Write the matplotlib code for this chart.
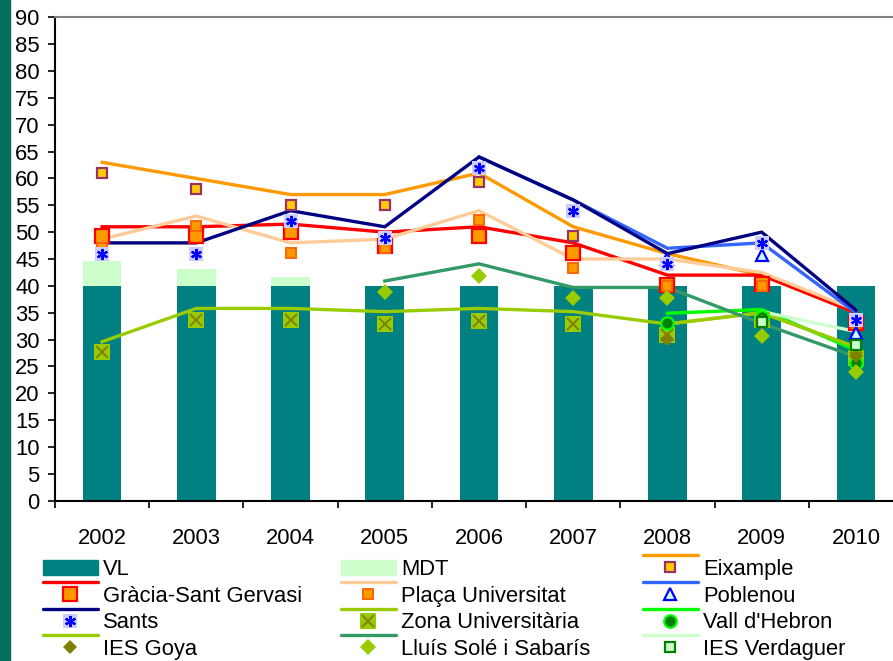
import numpy as np
import matplotlib
matplotlib.use("Agg")
import matplotlib.pyplot as plt
from matplotlib.lines import Line2D
from matplotlib.patches import Rectangle
from matplotlib.legend_handler import HandlerBase

nan = np.nan

years = ["2002", "2003", "2004", "2005", "2006", "2007", "2008", "2009", "2010"]
vl = [40, 40, 40, 40, 40, 40, 40, 40, 40]
mdt = [4.7, 3.2, 1.7, 0, 0, 0, 0, 0, 0]

eixample_line = [63, 60, 57, 57, 61, 51, 46, 42, 35]
eixample_pts = [61, 58, 55, 55, 59.3, 49.2, 44, nan, 33.5]
gracia_line = [51, 51, 51.5, 50, 51, 48, 42, 42, 35]
gracia_pts = [49.2, 49.2, 50, 47.5, 49.2, 46.2, 40.2, 40.3, 33]
placa_line = [48.7, 53, 48, 48.7, 54, 45, 45, 42.5, 35.5]
placa_pts = [47, 51.2, 46.2, 47, 52.3, 43.3, 40, 40, 33]
poblenou_line = [nan, nan, nan, nan, 64, 56, 47, 48, 35]
poblenou_pts = [nan, nan, nan, nan, nan, nan, 45, 45.7, 31.2]
sants_line = [48, 48, 54, 51, 64, 56, 46, 50, 35.5]
sants_pts = [46, 46, 52, 49, 62, 54, 44, 48, 33.6]
zona_line = [29.6, 35.8, 35.8, 35.2, 35.8, 35.2, 32.9, 35, 28.6]
zona_pts = [27.6, 33.6, 33.6, 32.9, 33.5, 32.9, 30.9, 33.6, 26.6]
vall_line = [nan, nan, nan, nan, nan, nan, 34.9, 35.6, 28]
vall_pts = [nan, nan, nan, nan, nan, nan, 33, 34.2, 25.6]
goya_line = [nan, nan, nan, nan, nan, nan, 32.9, 35, 28.6]
goya_pts = [nan, nan, nan, nan, nan, nan, 30.1, 33.5, 27]
lluis_line = [nan, nan, nan, 40.9, 44.1, 39.7, 39.7, 33, 26.8]
lluis_pts = [nan, nan, nan, 38.9, 41.8, 37.8, 37.8, 30.7, 24]
verdaguer_line = [nan, nan, nan, nan, nan, nan, nan, 35.2, 31.5]
verdaguer_pts = [nan, nan, nan, nan, nan, nan, nan, 33.2, 29]

plt.rcParams["font.family"] = ["Liberation Sans", "DejaVu Sans"]
FS = 15.8

W, H = 893, 661
fig = plt.figure(figsize=(W / 100, H / 100), dpi=100)
fig.patches.append(Rectangle((0, 0), 10 / W, 1, transform=fig.transFigure,
                             color="#00705c", zorder=0))

ax_l, ax_r, ax_t, ax_b = 55, 903, 17.3, 500.7
ax = fig.add_axes([ax_l / W, 1 - ax_b / H, (ax_r - ax_l) / W, (ax_b - ax_t) / H])

x = np.arange(len(years))
ax.bar(x, vl, width=0.41, color="#008080", zorder=2)
ax.bar(x, mdt, width=0.41, bottom=vl, color="#ccffcc", zorder=2)

LW = 2.4


def series(line_y, line_color, pts_y, markers, lw=LW):
    ln = None
    if line_y is not None:
        ln, = ax.plot(x, line_y, color=line_color, lw=lw, zorder=3,
                      solid_joinstyle="miter")
    mks = []
    for m in markers:
        mk, = ax.plot(x, pts_y, linestyle="none", zorder=4, **m)
        mks.append(mk)
    return (ln, tuple(mks))


h_eix = series(eixample_line, "#ff9900", eixample_pts,
               [dict(marker="s", ms=7, mfc="#ffcc00", mec="#993366", mew=1.6)])
h_gra = series(gracia_line, "#ff0000", gracia_pts,
               [dict(marker="s", ms=10.5, mfc="#ff9900", mec="#ff0000", mew=1.6)])
h_pla = series(placa_line, "#ffcc99", placa_pts,
               [dict(marker="s", ms=7.5, mfc="#ff9900", mec="#ff6600", mew=1.4)])
h_pob = series(poblenou_line, "#3366ff", poblenou_pts,
               [dict(marker="^", ms=8.5, mfc="#ccffff", mec="#0000ff", mew=1.6)])
h_san = series(sants_line, "#000080", sants_pts,
               [dict(marker="s", ms=10, mfc="#ccccff", mec="#ccccff", mew=0),
                dict(marker=(6, 2, 0), ms=8, mfc="#0000ff", mec="#0000ff", mew=1.6)])
h_zon = series(zona_line, "#99cc00", zona_pts,
               [dict(marker="s", ms=12, mfc="#99cc00", mec="#99cc00", mew=0),
                dict(marker="x", ms=9, mfc="#808000", mec="#808000", mew=1.4)])
h_val = series(vall_line, "#00ff00", vall_pts,
               [dict(marker="o", ms=9, mfc="#008000", mec="#00ff00", mew=1.6)])
h_goy = series(goya_line, "#99cc00", goya_pts,
               [dict(marker="D", ms=7.5, mfc="#808000", mec="#808000", mew=0)])
h_llu = series(lluis_line, "#339966", lluis_pts,
               [dict(marker="D", ms=8.5, mfc="#99cc00", mec="#99cc00", mew=0)])
h_ver = series(verdaguer_line, "#ccffcc", verdaguer_pts,
               [dict(marker="s", ms=7, mfc="#ccffcc", mec="#008000", mew=1.6)])

ax.set_xlim(-0.5, len(years) - 0.5)
ax.set_ylim(0, 90)
ax.set_yticks(np.arange(0, 91, 5))
ax.set_xticks(x)
ax.set_xticklabels(years)
ax.set_xticks(np.arange(-0.5, len(years), 1), minor=True)
ax.tick_params(axis="x", which="major", length=0, pad=19.5, labelsize=FS)
ax.tick_params(axis="x", which="minor", length=5, width=1.2, direction="out")
ax.tick_params(axis="y", length=5, width=1.2, pad=6, labelsize=FS)
ax.spines["right"].set_visible(False)
ax.spines["top"].set_color("#808080")
ax.spines["top"].set_linewidth(1.5)
ax.spines["left"].set_linewidth(1.5)
ax.spines["bottom"].set_linewidth(1.5)


class HandlerLineOver(HandlerBase):
    def create_artists(self, legend, orig_handle, xdescent, ydescent,
                       width, height, fontsize, trans):
        ln, mks = orig_handle
        x0 = -xdescent
        yc = -ydescent + height / 2
        out = []
        if ln is not None:
            yl = yc + 0.55 * fontsize
            a = Line2D([x0, x0 + width], [yl, yl], color=ln.get_color(),
                       lw=ln.get_linewidth(), solid_capstyle="round")
            a.set_transform(trans)
            out.append(a)
        for m in mks:
            a = Line2D([x0 + width / 2], [yc], linestyle="none",
                       marker=m.get_marker(), ms=m.get_markersize(),
                       mfc=m.get_markerfacecolor(), mec=m.get_markeredgecolor(),
                       mew=m.get_markeredgewidth())
            a.set_transform(trans)
            out.append(a)
        return out


vl_patch = Rectangle((0, 0), 1, 1, color="#008080")
mdt_patch = Rectangle((0, 0), 1, 1, color="#ccffcc")

columns = [
    (43, [vl_patch, h_gra, h_san, h_goy],
     ["VL", "Gràcia-Sant Gervasi", "Sants", "IES Goya"]),
    (341, [mdt_patch, h_pla, h_zon, h_llu],
     ["MDT", "Plaça Universitat", "Zona Universitària", "Lluís Solé i Sabarís"]),
    (643, [h_eix, h_pob, h_val, h_ver],
     ["Eixample", "Poblenou", "Vall d'Hebron", "IES Verdaguer"]),
]
for left_px, handles, labels in columns:
    fig.legend(handles, labels, loc="upper left",
               bbox_to_anchor=(left_px / W, 1 - 559 / H),
               frameon=False, fontsize=FS, borderpad=0, borderaxespad=0,
               handlelength=2.5, handleheight=0.7, handletextpad=0.25,
               labelspacing=0.26, handler_map={tuple: HandlerLineOver()})

fig.savefig("out.png", dpi=100)
